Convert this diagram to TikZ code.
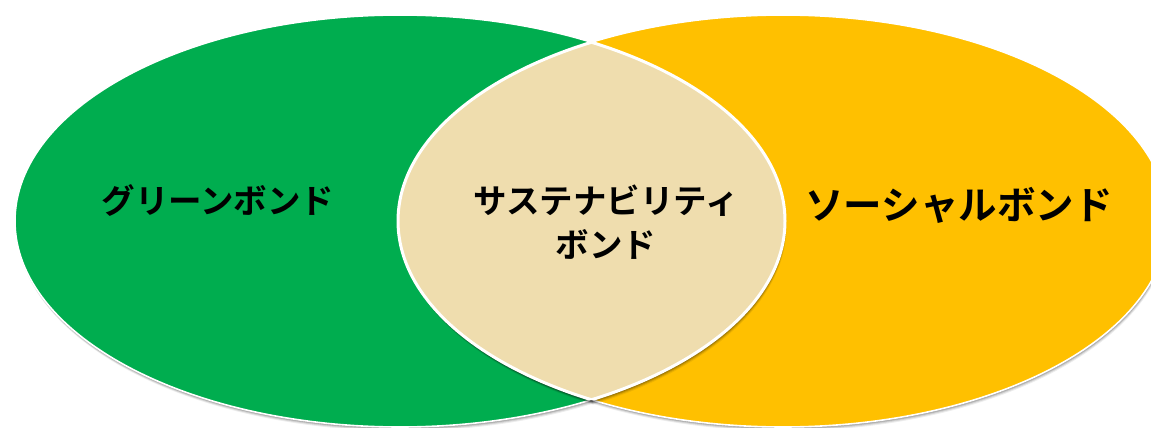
\documentclass[tikz,border=0pt]{standalone}
\usepackage{fontspec}
\newfontfamily\jp{Noto Sans CJK JP Bold}
\definecolor{bondgreen}{HTML}{00AD4F}
\definecolor{bondyellow}{HTML}{FFC000}
\definecolor{bondtan}{HTML}{EFDDAE}
\tikzset{
  rim/.style={draw=white, line width=1.6pt},
  lbl/.style={font=\jp, text=black, align=center, inner sep=0pt},
}
\begin{document}
\begin{tikzpicture}[x=1pt,y=-1pt]
\useasboundingbox (0,0) rectangle (1151,428);
% shadows
\foreach \s/\o in {1/0.2,2/0.15,3/0.1,4/0.07}{
  \fill[black,opacity=\o] (400+0.3*\s,221+\s) ellipse [x radius=385pt, y radius=206pt];
}
\fill[bondgreen] (400,221) ellipse [x radius=385pt, y radius=206pt];
\draw[rim] (400,221) ellipse [x radius=385pt, y radius=206pt];
\foreach \s/\o in {1/0.2,2/0.15,3/0.1,4/0.07}{
  \begin{scope}
  \clip (0,0) rectangle (1151,428);
  \fill[black,opacity=\o] (783+0.3*\s,221+\s) ellipse [x radius=385pt, y radius=206pt];
  \end{scope}
}
\fill[bondyellow] (783,221) ellipse [x radius=385pt, y radius=206pt];
\draw[rim] (783,221) ellipse [x radius=385pt, y radius=206pt];
% lens shadow
\foreach \s/\o in {1/0.25,2/0.2,3/0.15,4/0.1,5/0.06}{
  \begin{scope}
    \clip (400+0.3*\s,221+\s) ellipse [x radius=385pt, y radius=206pt];
    \fill[black,opacity=\o] (783+0.3*\s,221+\s) ellipse [x radius=385pt, y radius=206pt];
  \end{scope}
}
% lens
\begin{scope}
  \clip (400,221) ellipse [x radius=385pt, y radius=206pt];
  \fill[bondtan] (783,221) ellipse [x radius=385pt, y radius=206pt];
  \draw[draw=white, line width=3pt] (783,221) ellipse [x radius=385pt, y radius=206pt];
\end{scope}
\begin{scope}
  \clip (783,221) ellipse [x radius=385pt, y radius=206pt];
  \draw[draw=white, line width=3pt] (400,221) ellipse [x radius=385pt, y radius=206pt];
\end{scope}
% labels
\node[lbl, font=\jp\fontsize{33.5}{40}\selectfont] (green) at (218,201) {グリーンボンド};
\node[lbl, font=\jp\fontsize{33.5}{44}\selectfont] (sust) at (606,222) {サステナビリティ\\ボンド};
\node[lbl, font=\jp\fontsize{38.5}{44}\selectfont] (social) at (959,205) {ソーシャルボンド};
\end{tikzpicture}
\end{document}
